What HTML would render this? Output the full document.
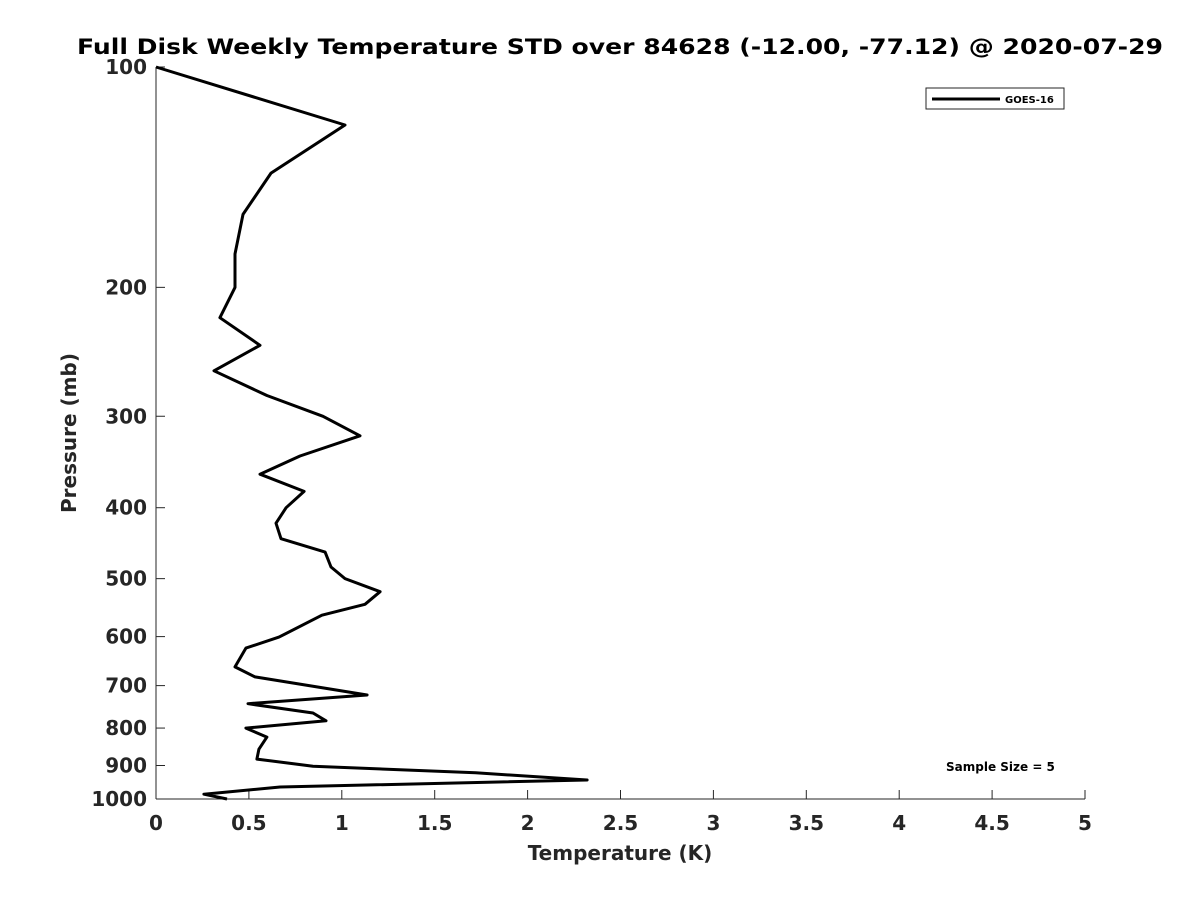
<!DOCTYPE html>
<html><head><meta charset="utf-8"><style>
body{margin:0;background:#fff;}
svg text{font-family:"DejaVu Sans","Liberation Sans",sans-serif;font-weight:bold;fill:#262626;}
</style></head><body>
<svg width="1200" height="900">
<rect width="1200" height="900" fill="#fff"/>
<text x="620" y="54" text-anchor="middle" font-size="21" textLength="1086" lengthAdjust="spacingAndGlyphs" style="fill:#000">Full Disk Weekly Temperature STD over 84628 (-12.00, -77.12) @ 2020-07-29</text>
<g id="axes"></g>
<path id="line" fill="none" stroke="#000" stroke-width="3" stroke-linejoin="round"/>
<text x="620" y="860" text-anchor="middle" font-size="20">Temperature (K)</text>
<text transform="translate(76,433) rotate(-90)" text-anchor="middle" font-size="20">Pressure (mb)</text>
<g>
<rect x="926" y="88" width="138" height="21" fill="#fff" stroke="#262626" stroke-width="1"/>
<line x1="932" y1="99" x2="1000" y2="99" stroke="#000" stroke-width="3"/>
<text x="1005" y="103" font-size="10" style="fill:#000">GOES-16</text>
</g>
<text x="946" y="771" font-size="12" style="fill:#000">Sample Size = 5</text>
</svg>
<script>
const xTicks=[0,0.5,1,1.5,2,2.5,3,3.5,4,4.5,5];
const xTickLabels=["0","0.5","1","1.5","2","2.5","3","3.5","4","4.5","5"];
const yTicks=[100,200,300,400,500,600,700,800,900,1000];
const temps=[0,1.017,0.619,0.468,0.425,0.425,0.344,0.56,0.312,0.597,0.899,1.098,0.775,0.56,0.797,0.70,0.646,0.673,0.91,0.942,1.017,1.206,1.125,0.893,0.662,0.484,0.425,0.533,1.136,0.495,0.845,0.915,0.484,0.597,0.554,0.543,0.845,1.72,2.32,0.668,0.258,0.382];
const pressures=[100,120,139.6,159,180,200,220,240,260,281,300,319,340,360,380,400,420,441,460,482,500,521,542,561,601,622,660,681,721,741,763,782,800,823,855,882,902,921,942,963,985,1000];
const X0=156,X1=1085,Y0=67,Y1=799;
const xs=v=>X0+(v-0)/(5-0)*(X1-X0);
const ys=p=>Y0+Math.log10(p/100)*(Y1-Y0);
const ns="http://www.w3.org/2000/svg";
const g=document.getElementById('axes');
function mk(t,a){const e=document.createElementNS(ns,t);for(const k in a)e.setAttribute(k,a[k]);g.appendChild(e);return e;}
let e=mk('line',{x1:X0,y1:Y0,x2:X0,y2:Y1,stroke:'#262626','stroke-width':1});


e=mk('line',{x1:X0,y1:Y1,x2:X1,y2:Y1,stroke:'#262626','stroke-width':1});


xTicks.forEach((v,i)=>{
 const t=mk('line',{x1:xs(v),y1:Y1,x2:xs(v),y2:Y1-9,stroke:'#262626'});
 
 
 const l=mk('text',{x:xs(v),y:Y1+31,'text-anchor':'middle','font-size':20});
 l.textContent=xTickLabels[i];
 
 
});
yTicks.forEach(p=>{
 const t=mk('line',{x1:X0,y1:ys(p),x2:X0+9,y2:ys(p),stroke:'#262626'});
 
 
 const l=mk('text',{x:X0-9,y:ys(p)+7,'text-anchor':'end','font-size':20});
 l.textContent=String(p);
 
 
});
document.getElementById('line').setAttribute('d',temps.map((t,i)=>(i?'L':'M')+xs(t).toFixed(1)+','+ys(pressures[i]).toFixed(1)).join(''));
</script>
</body></html>
